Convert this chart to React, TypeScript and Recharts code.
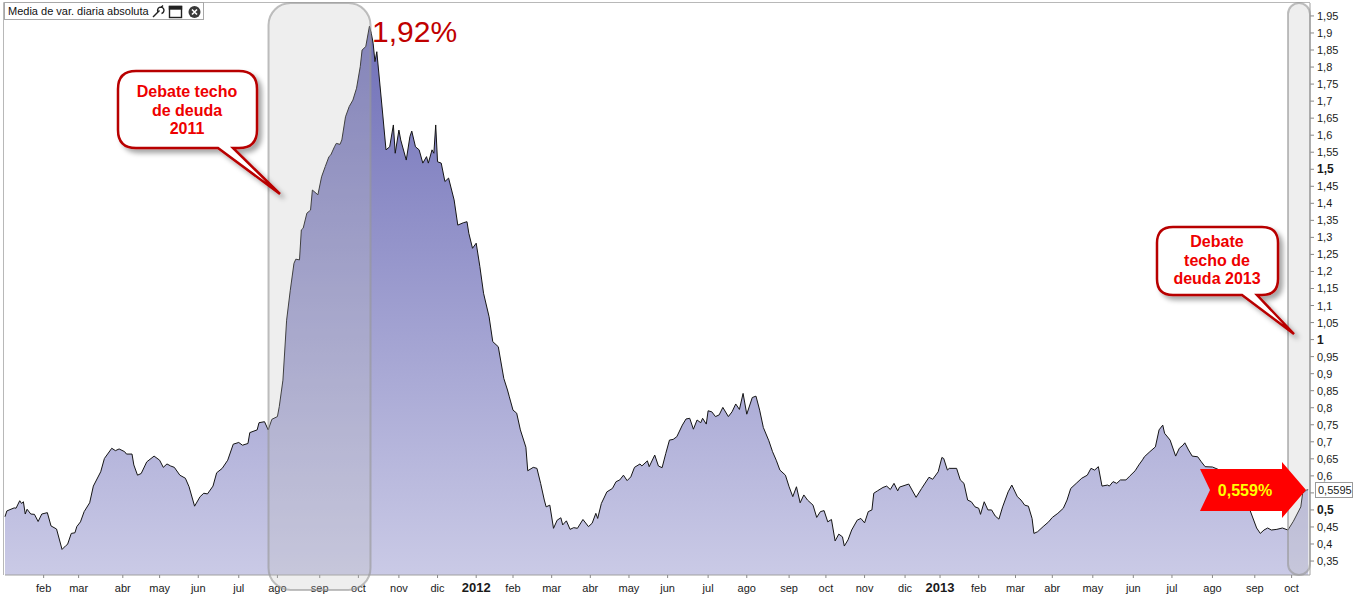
import React from 'react';
import { AreaChart, Area, XAxis, YAxis } from 'recharts';

// session index (trading days since early Jan 2011) and the absolute daily variation average
const sessions = [
  0, 1, 5, 6, 8, 9, 10, 11, 12, 14, 16, 18, 20, 23, 25, 28, 31, 33, 34, 36, 38, 39, 41, 43, 46, 48,
  52, 54, 58, 60, 62, 65, 66, 69, 70, 72, 74, 77, 81, 84, 86, 88, 90, 92, 95, 98, 100, 103, 106, 108,
  110, 113, 115, 118, 121, 124, 127, 129, 132, 133, 137, 138, 141, 143, 145, 148, 149, 151, 153, 155,
  157, 158, 160, 161, 162, 164, 166, 167, 170, 172, 174, 176, 177, 179, 180, 182, 183, 185, 187, 189,
  191, 193, 194, 196, 198, 199, 200, 201, 202, 205, 207, 209, 211, 212, 214, 215, 218, 220, 221, 223,
  225, 227, 229, 230, 232, 233, 234, 235, 237, 239, 241, 244, 246, 249, 251, 252, 254, 256, 258, 260,
  263, 265, 268, 271, 273, 274, 276, 278, 280, 283, 284, 287, 289, 291, 293, 294, 296, 298, 300, 302,
  303, 305, 307, 309, 311, 314, 317, 319, 321, 322, 324, 327, 330, 332, 334, 336, 338, 340, 342, 345,
  346, 349, 350, 353, 355, 357, 359, 361, 363, 365, 368, 370, 372, 374, 376, 378, 379, 381, 382, 384,
  386, 388, 390, 393, 395, 397, 399, 401, 403, 406, 408, 410, 412, 415, 417, 419, 421, 424, 426, 428,
  430, 432, 434, 436, 439, 441, 443, 445, 447, 449, 451, 453, 455, 456, 458, 460, 463, 465, 467, 469,
  471, 472, 474, 477, 479, 481, 483, 485, 486, 491, 495, 498, 502, 504, 507, 509, 510, 512, 513, 517,
  519, 521, 523, 525, 527, 529, 530, 532, 534, 536, 538, 540, 542, 545, 547, 550, 552, 554, 556, 558,
  559, 561, 564, 567, 569, 572, 575, 577, 579, 582, 585, 588, 590, 592, 594, 596, 599, 600, 602, 604,
  606, 609, 611, 614, 616, 618, 619, 622, 625, 627, 629, 630, 633, 636, 638, 640, 641, 643, 645, 648,
  650, 652, 656, 660, 665, 671, 674, 676, 680, 682, 684, 686, 688, 691, 694, 697, 700, 704, 705, 707,
  708,
];

const values = [
  0.48, 0.497, 0.506, 0.505, 0.527, 0.519, 0.524, 0.488, 0.502, 0.488, 0.487, 0.466, 0.488, 0.492, 0.453, 0.444, 0.384, 0.395, 0.399, 0.431, 0.433, 0.451, 0.465, 0.495, 0.521, 0.57,
  0.612, 0.651, 0.681, 0.674, 0.679, 0.671, 0.664, 0.664, 0.632, 0.602, 0.607, 0.641, 0.658, 0.646, 0.625, 0.635, 0.629, 0.625, 0.602, 0.593, 0.568, 0.511, 0.539, 0.549,
  0.547, 0.57, 0.609, 0.622, 0.646, 0.693, 0.698, 0.69, 0.695, 0.727, 0.735, 0.756, 0.759, 0.735, 0.766, 0.774, 0.803, 0.881, 1.057, 1.145,
  1.224, 1.236, 1.234, 1.322, 1.327, 1.371, 1.38, 1.439, 1.425, 1.478, 1.508, 1.537, 1.542, 1.566, 1.576, 1.573, 1.586, 1.654, 1.684, 1.703,
  1.738, 1.801, 1.85, 1.86, 1.92, 1.899, 1.87, 1.816, 1.845, 1.674, 1.557, 1.566, 1.63, 1.547, 1.615, 1.586, 1.527, 1.596, 1.612, 1.566,
  1.557, 1.518, 1.537, 1.518, 1.557, 1.547, 1.63, 1.522, 1.518, 1.464, 1.474, 1.41, 1.336, 1.343, 1.346, 1.312, 1.268, 1.283, 1.214, 1.136,
  1.067, 0.994, 0.979, 0.886, 0.852, 0.832, 0.793, 0.784, 0.735, 0.684, 0.615, 0.625, 0.622, 0.578, 0.529, 0.509, 0.514, 0.446, 0.47, 0.477,
  0.456, 0.468, 0.443, 0.448, 0.446, 0.472, 0.451, 0.461, 0.49, 0.475, 0.519, 0.553, 0.563, 0.583, 0.588, 0.602, 0.586, 0.597, 0.625, 0.635,
  0.629, 0.644, 0.627, 0.661, 0.629, 0.624, 0.666, 0.705, 0.707, 0.715, 0.749, 0.767, 0.769, 0.737, 0.764, 0.756, 0.769, 0.752, 0.791, 0.788,
  0.774, 0.779, 0.801, 0.774, 0.788, 0.811, 0.795, 0.842, 0.781, 0.83, 0.834, 0.793, 0.742, 0.703, 0.671, 0.646, 0.617, 0.602, 0.568, 0.539,
  0.568, 0.521, 0.544, 0.529, 0.514, 0.478, 0.495, 0.498, 0.465, 0.472, 0.409, 0.429, 0.421, 0.394, 0.412, 0.441, 0.47, 0.475, 0.462, 0.495,
  0.5, 0.549, 0.556, 0.566, 0.57, 0.56, 0.578, 0.556, 0.567, 0.576, 0.537, 0.563, 0.596, 0.59, 0.612, 0.654, 0.651, 0.617, 0.622, 0.622,
  0.588, 0.578, 0.529, 0.524, 0.509, 0.505, 0.487, 0.524, 0.5, 0.5, 0.482, 0.473, 0.509, 0.553, 0.573, 0.539, 0.529, 0.514, 0.511, 0.475,
  0.431, 0.436, 0.451, 0.465, 0.478, 0.49, 0.505, 0.529, 0.563, 0.578, 0.593, 0.602, 0.622, 0.617, 0.627, 0.57, 0.573, 0.57, 0.583, 0.578,
  0.588, 0.588, 0.599, 0.615, 0.632, 0.647, 0.656, 0.671, 0.685, 0.735, 0.749, 0.725, 0.705, 0.658, 0.681, 0.69, 0.697, 0.676, 0.658, 0.656,
  0.641, 0.627, 0.626, 0.617, 0.611, 0.594, 0.552, 0.505, 0.447, 0.431, 0.441, 0.447, 0.441, 0.443, 0.447, 0.441, 0.467, 0.509, 0.549, 0.558,
  0.5595,
];

const monthTicks = [
  21, 40, 64, 84, 105, 127, 148, 171, 192, 214, 235, 256, 276, 297, 318, 339, 360,
  382, 403, 426, 446, 467, 489, 508, 529, 549, 569, 591, 613, 634, 656, 679, 699,
];
const monthLabels = [
  'feb', 'mar', 'abr', 'may', 'jun', 'jul', 'ago', 'sep', 'oct', 'nov', 'dic', '2012', 'feb', 'mar', 'abr', 'may', 'jun',
  'jul', 'ago', 'sep', 'oct', 'nov', 'dic', '2013', 'feb', 'mar', 'abr', 'may', 'jun', 'jul', 'ago', 'sep', 'oct',
];

const yTicks = [
  0.35, 0.4, 0.45, 0.5, 0.55, 0.6, 0.65, 0.7, 0.75, 0.8, 0.85, 0.9, 0.95, 1, 1.05, 1.1, 1.15,
  1.2, 1.25, 1.3, 1.35, 1.4, 1.45, 1.5, 1.55, 1.6, 1.65, 1.7, 1.75, 1.8, 1.85, 1.9, 1.95,
];
const boldY = [0.5, 1, 1.5];
// this tick's label sits under the last-value marker
const hiddenY = [0.55];

const legendTitle = 'Media de var. diaria absoluta';
const peakLabel = '1,92%';
const lastLabel = '0,559%';
const lastValue = '0,5595';
const callout2011 = ['Debate techo', 'de deuda', '2011'];
const callout2013 = ['Debate', 'techo de', 'deuda 2013'];

const data = sessions.map((t, i) => ({ t, v: values[i] }));

const FONT = '"Liberation Sans", Arial, sans-serif';

const XTick = (props: any) => {
  const { x, payload } = props;
  const idx = monthTicks.indexOf(payload.value);
  const label = monthLabels[idx] ?? '';
  const year = /^\d{4}$/.test(label);
  return (
    <text x={x} y={592} textAnchor="middle" fontFamily={FONT} fontSize={year ? 13 : 11}
      fontWeight={year ? 'bold' : 'normal'} fill="#1a1a1a">
      {label}
    </text>
  );
};

const YTick = (props: any) => {
  const { x, y, payload } = props;
  const v = payload.value;
  if (hiddenY.includes(v)) return <g />;
  const bold = boldY.includes(v);
  return (
    <text x={x + 1} y={y + 4} textAnchor="start" fontFamily={FONT} fontSize={bold ? 12 : 11}
      fontWeight={bold ? 'bold' : 'normal'} fill="#1a1a1a">
      {String(v).replace('.', ',')}
    </text>
  );
};

function Callout({ box, tail, lines, cx, y0 }: any) {
  const [x0, t0, x1, b0, r] = box;
  const [ta, tb, tx, ty] = tail;
  const d = `M${x0 + r},${t0} H${x1 - r} Q${x1},${t0} ${x1},${t0 + r} V${b0 - r} Q${x1},${b0} ${x1 - r},${b0}
    H${tb} L${tx},${ty} L${ta},${b0} H${x0 + r} Q${x0},${b0} ${x0},${b0 - r} V${t0 + r} Q${x0},${t0} ${x0 + r},${t0} Z`;
  return (
    <g>
      <path d={d} fill="#fff" stroke="#b80000" strokeWidth={2.5} filter="url(#shadow)" />
      {lines.map((l: string, i: number) => (
        <text key={i} x={cx} y={y0 + i * 18.5} textAnchor="middle" fontFamily={FONT}
          fontSize={16} fontWeight="bold" fill="#ee0000">{l}</text>
      ))}
    </g>
  );
}

export default function App() {
  return (
    <div style={{ position: 'relative', width: 1361, height: 594, background: '#fff' }}>
      <style>{'body{margin:0;overflow:hidden}'}</style>
      <AreaChart width={1361} height={594} data={data} margin={{ top: 3, right: 0, bottom: 0, left: 5 }}>
        <defs>
          <linearGradient id="fillGrad" x1="0" y1="0" x2="0" y2="1">
            <stop offset="0%" stopColor="#7070b8" />
            <stop offset="100%" stopColor="#cacae6" />
          </linearGradient>
        </defs>
        <XAxis dataKey="t" type="number" domain={[0, 709]} ticks={monthTicks} tick={<XTick />}
          interval={0} height={19} tickSize={3} axisLine={{ stroke: '#a0a0a0' }} tickLine={{ stroke: '#888' }} />
        <YAxis orientation="right" type="number" domain={[0.309, 1.988]} ticks={yTicks} tick={<YTick />}
          interval={0} width={51} tickSize={4} axisLine={{ stroke: '#a0a0a0' }} tickLine={{ stroke: '#888' }}
          allowDataOverflow />
        <Area type="linear" dataKey="v" stroke="#151515" strokeWidth={1} fill="url(#fillGrad)" fillOpacity={1}
          baseValue="dataMin" isAnimationActive={false} dot={false} activeDot={false} />
      </AreaChart>
      <svg width={1361} height={594} style={{ position: 'absolute', left: 0, top: 0, pointerEvents: 'none' }}>
        <defs>
          <filter id="shadow" x="-20%" y="-20%" width="150%" height="160%">
            <feDropShadow dx="4" dy="4" stdDeviation="2.5" floodColor="#000" floodOpacity="0.35" />
          </filter>
        </defs>
        {/* plot frame */}
        <path d="M3.5,575 V2.5 H1310" fill="none" stroke="#b8b8b8" strokeWidth={1} />
        {/* highlighted periods */}
        <rect x={268.5} y={3} width={102} height={587} rx={22} fill="rgba(190,190,190,0.26)"
          stroke="rgba(150,150,150,0.6)" strokeWidth={2} />
        <rect x={1288} y={3} width={22} height={572} rx={11} fill="rgba(190,190,190,0.26)"
          stroke="rgba(150,150,150,0.6)" strokeWidth={2} />
        {/* legend */}
        <rect x={4.5} y={2.5} width={199} height={17} fill="#fff" stroke="#a8a8a8" />
        <text x={8} y={15} fontFamily={FONT} fontSize={11} fill="#111">{legendTitle}</text>
        <g stroke="#222" fill="none" strokeWidth={1.4}>
          <line x1={153} y1={17} x2={159.5} y2={10.5} />
          <path d="M158,12 a3.2,3.2 0 1 1 3.5,1.5 M161.5,7 l1.5,-1.5" />
          <rect x={169.5} y={6.5} width={12} height={11} fill="#fff" />
          <rect x={169.5} y={6.5} width={12} height={2.5} fill="#222" />
        </g>
        <circle cx={194.5} cy={12} r={6} fill="#3a3a3a" />
        <path d="M192,9.5 L197,14.5 M197,9.5 L192,14.5" stroke="#fff" strokeWidth={1.6} />
        {/* annotations */}
        <text x={372} y={42} fontFamily={FONT} fontSize={30} fill="#c00000">{peakLabel}</text>
        <Callout box={[118, 71, 257, 148, 18]} tail={[218, 233, 280, 194]} lines={callout2011} cx={187} y0={97} />
        <Callout box={[1157, 227, 1278, 295, 16]} tail={[1242, 1257, 1294, 334]} lines={callout2013} cx={1217} y0={247} />
        <polygon points="1200,469 1282,469 1282,462 1306,490 1282,518 1282,511 1200,511 1210,490" fill="#ff0000" />
        <text x={1245} y={496} textAnchor="middle" fontFamily={FONT} fontSize={16} fontWeight="bold" fill="#ffff00">
          {lastLabel}
        </text>
        {/* last value marker */}
        <rect x={1315.5} y={482.5} width={37} height={15} fill="#fff" stroke="#9a9a9a" />
        <text x={1318} y={494} fontFamily={FONT} fontSize={11} fill="#1a1a1a">{lastValue}</text>
      </svg>
    </div>
  );
}
